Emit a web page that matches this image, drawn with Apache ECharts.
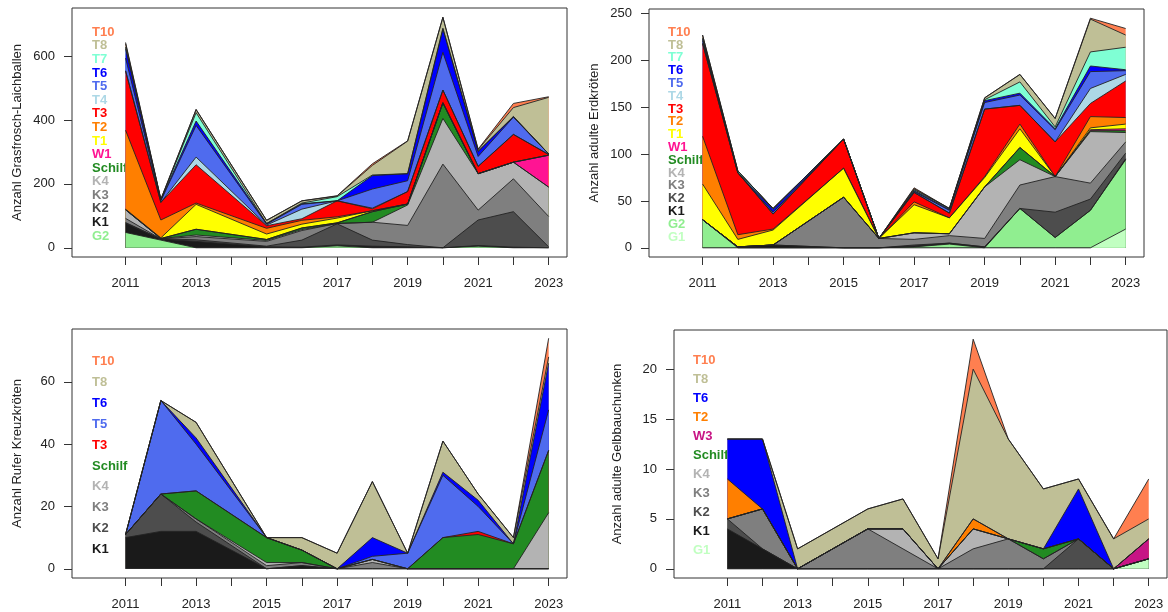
<!DOCTYPE html>
<html><head><meta charset="utf-8">
<script src="https://cdn.jsdelivr.net/npm/echarts@6/dist/echarts.min.js"></script>
<style>html,body{margin:0;padding:0;background:#fff}#c{width:1168px;height:612px}</style>
</head><body><div id="c"></div>
<script>
// ---------- shared axis data ----------
const years = [2011, 2012, 2013, 2015, 2016, 2017, 2018, 2019, 2020, 2021, 2022, 2023];
const tickYears = [2011, 2012, 2013, 2014, 2015, 2016, 2017, 2018, 2019, 2020, 2021, 2022, 2023];
const labelYears = [2011, 2013, 2015, 2017, 2019, 2021, 2023];

// ---------- Panel 1: Grasfrosch-Laichballen ----------
const p1_title = 'Anzahl Grasfrosch-Laichballen';
const p1_yTicks = [0, 200, 400, 600];
const p1_G2     = [48, 24, 0, 0, 0, 6, 0, 0, 0, 5, 0, 0];
const p1_K1     = [29, 3, 20, 3, 2, 3, 5, 3, 0, 2, 2, 0];
const p1_K2     = [2, 1, 5, 2, 22, 66, 19, 7, 0, 80, 111, 3];
const p1_K3     = [13, 0, 10, 15, 30, 1, 56, 60, 262, 31, 103, 95];
const p1_K4     = [27, 1, 5, 3, 3, 0, 0, 64, 143, 114, 52, 92];
const p1_Schilf = [0, 0, 18, 3, 5, 2, 33, 3, 49, 0, 0, 0];
const p1_W1     = [0, 0, 0, 0, 0, 0, 0, 0, 0, 0, 0, 100];
const p1_T1     = [2, 2, 78, 17, 12, 15, 3, 0, 0, 0, 0, 0];
const p1_T2     = [247, 56, 4, 18, 12, 4, 0, 0, 0, 0, 0, 0];
const p1_T3     = [186, 55, 120, 8, 5, 50, 6, 39, 40, 23, 87, 2];
const p1_T4     = [0, 0, 24, 2, 30, 0, 2, 0, 0, 0, 0, 0];
const p1_T5     = [40, 5, 99, 3, 15, 0, 60, 34, 118, 31, 54, 2];
const p1_T6     = [30, 3, 14, 2, 2, 0, 42, 22, 73, 16, 2, 0];
const p1_T7     = [5, 0, 26, 0, 2, 13, 2, 0, 3, 0, 0, 0];
const p1_T8     = [10, 2, 10, 10, 7, 2, 30, 102, 34, 5, 28, 177];
const p1_T10    = [4, 0, 0, 0, 0, 1, 5, 1, 0, 2, 13, 2];

// ---------- Panel 2: adulte Erdkröten ----------
const p2_title = 'Anzahl adulte Erdkröten';
const p2_yTicks = [0, 50, 100, 150, 200, 250];
const p2_G1     = [0, 0, 0, 0, 0, 0, 0, 0, 0, 0, 0, 20];
const p2_G2     = [30, 0, 0, 0, 0, 1, 4, 0, 42, 11, 40, 74];
const p2_K1     = [0, 1, 3, 0, 0, 1, 1, 1, 0, 0, 0, 1];
const p2_K2     = [0, 0, 0, 0, 0, 1, 0, 0, 0, 27, 12, 6];
const p2_K3     = [0, 0, 0, 54, 10, 6, 8, 9, 25, 38, 17, 12];
const p2_K4     = [0, 0, 0, 0, 0, 7, 2, 55, 27, 0, 55, 10];
const p2_Schilf = [0, 0, 0, 0, 0, 0, 0, 0, 13, 0, 1, 2];
const p2_W1     = [0, 0, 0, 0, 0, 0, 0, 0, 0, 0, 1, 2];
const p2_T1     = [38, 8, 16, 31, 0, 30, 17, 10, 20, 0, 2, 5];
const p2_T2     = [51, 5, 1, 0, 0, 3, 0, 1, 5, 0, 12, 7];
const p2_T3     = [99, 66, 16, 31, 0, 10, 5, 72, 20, 37, 14, 39];
const p2_T4     = [0, 0, 0, 0, 0, 0, 0, 0, 0, 0, 16, 7];
const p2_T5     = [3, 0, 2, 0, 0, 1, 3, 7, 11, 13, 18, 4];
const p2_T6     = [2, 0, 3, 0, 0, 1, 1, 2, 2, 1, 6, 1];
const p2_T7     = [1, 2, 1, 0, 0, 1, 1, 1, 12, 2, 15, 24];
const p2_T8     = [3, 0, 0, 0, 0, 1, 0, 2, 8, 9, 35, 13];
const p2_T10    = [0, 0, 0, 0, 0, 1, 0, 0, 0, 0, 1, 7];

// ---------- Panel 3: Rufer Kreuzkröten ----------
const p3_title = 'Anzahl Rufer Kreuzkröten';
const p3_yTicks = [0, 20, 40, 60];
const p3_K1     = [10, 12, 12, 0, 1, 0, 0, 0, 0, 0, 0, 0];
const p3_K2     = [1, 12, 3, 0, 0, 0, 0, 0, 0, 0, 0, 0];
const p3_K3     = [0, 0, 1, 1, 1, 0, 2, 0, 0, 0, 0, 0];
const p3_K4     = [0, 0, 0, 1, 0, 0, 1, 0, 0, 0, 0, 18];
const p3_Schilf = [0, 0, 9, 8, 4, 0, 0, 0, 10, 11, 8, 20];
const p3_T3     = [0, 0, 0, 0, 0, 0, 0, 0, 0, 1, 0, 0];
const p3_T5     = [0, 30, 15, 0, 0, 0, 1, 5, 20, 8, 0, 13];
const p3_T6     = [0, 0, 2, 0, 0, 0, 6, 0, 1, 2, 0, 15];
const p3_T8     = [0, 0, 5, 0, 4, 5, 18, 0, 10, 2, 2, 2];
const p3_T10    = [0, 0, 0, 0, 0, 0, 0, 0, 0, 0, 0, 6];

// ---------- Panel 4: adulte Gelbbauchunken ----------
const p4_title = 'Anzahl adulte Gelbbauchunken';
const p4_yTicks = [0, 5, 10, 15, 20];
const p4_G1     = [0, 0, 0, 0, 0, 0, 0, 0, 0, 0, 0, 1];
const p4_K1     = [4, 2, 0, 0, 0, 0, 0, 0, 0, 0, 0, 0];
const p4_K2     = [1, 0, 0, 0, 0, 0, 0, 0, 0, 3, 0, 0];
const p4_K3     = [0, 4, 0, 4, 2, 0, 2, 3, 1, 0, 0, 0];
const p4_K4     = [0, 0, 0, 0, 2, 0, 2, 0, 0, 0, 0, 0];
const p4_Schilf = [0, 0, 0, 0, 0, 0, 0, 0, 1, 0, 0, 0];
const p4_W3     = [0, 0, 0, 0, 0, 0, 0, 0, 0, 0, 0, 2];
const p4_T2     = [4, 0, 0, 0, 0, 0, 1, 0, 0, 0, 0, 0];
const p4_T6     = [4, 7, 0, 0, 0, 0, 0, 0, 0, 5, 0, 0];
const p4_T8     = [0, 0, 2, 2, 3, 1, 15, 10, 6, 1, 3, 2];
const p4_T10    = [0, 0, 0, 0, 0, 0, 3, 0, 0, 0, 0, 4];

// ---------- colours ----------
const colors = {
  T10: '#FF7F50', T8: '#BFBF96', T7: '#7FFFD4', T6: '#0000FF', T5: '#4F6BEE',
  T4: '#ADD8E6', T3: '#FF0000', T2: '#FF7F00', T1: '#FFFF00', W1: '#FF1493',
  W3: '#C71585', Schilf: '#228B22', K4: '#B3B3B3', K3: '#7F7F7F', K2: '#4D4D4D',
  K1: '#1A1A1A', G2: '#90EE90', G1: '#C1FFC1'
};

// stacking order bottom -> top
const panels = [
  { title: p1_title, yTicks: p1_yTicks,
    layers: [['G2',p1_G2],['K1',p1_K1],['K2',p1_K2],['K3',p1_K3],['K4',p1_K4],['Schilf',p1_Schilf],['W1',p1_W1],['T1',p1_T1],['T2',p1_T2],['T3',p1_T3],['T4',p1_T4],['T5',p1_T5],['T6',p1_T6],['T7',p1_T7],['T8',p1_T8],['T10',p1_T10]],
    grid: {left: 72, top: 8, width: 495, height: 249}, titleX: 17, legX: 92, legY: 32.3, legDy: 13.58 },
  { title: p2_title, yTicks: p2_yTicks,
    layers: [['G1',p2_G1],['G2',p2_G2],['K1',p2_K1],['K2',p2_K2],['K3',p2_K3],['K4',p2_K4],['Schilf',p2_Schilf],['W1',p2_W1],['T1',p2_T1],['T2',p2_T2],['T3',p2_T3],['T4',p2_T4],['T5',p2_T5],['T6',p2_T6],['T7',p2_T7],['T8',p2_T8],['T10',p2_T10]],
    grid: {left: 649, top: 9, width: 495, height: 248}, titleX: 594, legX: 668, legY: 32.3, legDy: 12.8 },
  { title: p3_title, yTicks: p3_yTicks,
    layers: [['K1',p3_K1],['K2',p3_K2],['K3',p3_K3],['K4',p3_K4],['Schilf',p3_Schilf],['T3',p3_T3],['T5',p3_T5],['T6',p3_T6],['T8',p3_T8],['T10',p3_T10]],
    grid: {left: 72, top: 329, width: 495, height: 249}, titleX: 17, legX: 92, legY: 361.7, legDy: 20.85 },
  { title: p4_title, yTicks: p4_yTicks,
    layers: [['G1',p4_G1],['K1',p4_K1],['K2',p4_K2],['K3',p4_K3],['K4',p4_K4],['Schilf',p4_Schilf],['W3',p4_W3],['T2',p4_T2],['T6',p4_T6],['T8',p4_T8],['T10',p4_T10]],
    grid: {left: 674, top: 330, width: 493, height: 248}, titleX: 617, legX: 693, legY: 360, legDy: 19.07 }
];

const FONT = 'Liberation Sans, Arial, Helvetica, sans-serif';
const grids = [], xAxes = [], yAxes = [], series = [], graphics = [];
const fmt = v => String(Math.round(v));

panels.forEach((p, i) => {
  grids.push(Object.assign({ show: true, borderColor: '#333', borderWidth: 1, backgroundColor: 'transparent' }, p.grid));
  // cumulative (stacked) tops, bottom -> top
  const cum = [];
  let run = years.map(() => 0);
  p.layers.forEach(([name, vals]) => {
    run = run.map((s, k) => s + vals[k]);
    cum.push([name, run.slice()]);
  });
  const M = Math.max.apply(null, run);
  xAxes.push({
    type: 'value', gridIndex: i, min: 2009.48, max: 2023.52,
    axisLine: { show: false, onZero: false }, splitLine: { show: false },
    axisTick: { show: true, length: 8, lineStyle: { color: '#333' }, customValues: tickYears },
    axisLabel: { customValues: labelYears, formatter: fmt, margin: 20, color: '#222', fontSize: 13, fontFamily: FONT }
  });
  yAxes.push({
    type: 'value', gridIndex: i, min: -0.04 * M, max: 1.04 * M,
    axisLine: { show: false, onZero: false }, splitLine: { show: false },
    axisTick: { show: true, length: 8, lineStyle: { color: '#333' }, customValues: p.yTicks },
    axisLabel: { customValues: p.yTicks, formatter: fmt, margin: 17, color: '#222', fontSize: 13, fontFamily: FONT }
  });
  // paint from the top layer down so lower layers overlay
  cum.slice().reverse().forEach(([name, tops]) => {
    series.push({
      type: 'line', name: name, xAxisIndex: i, yAxisIndex: i,
      data: years.map((y, k) => [y, tops[k]]),
      symbol: 'none', smooth: false, silent: true,
      lineStyle: { color: '#222', width: 0.9 },
      areaStyle: { color: colors[name], opacity: 1, origin: 0 }
    });
  });
  // legend (top -> bottom is reverse stacking order)
  const leg = p.layers.map(l => l[0]).reverse();
  leg.forEach((name, j) => {
    graphics.push({ type: 'text', x: p.legX, y: p.legY + j * p.legDy, silent: true,
      style: { text: name, fill: colors[name], font: 'bold 13px ' + FONT, align: 'left', verticalAlign: 'middle' } });
  });
  // y-axis title
  graphics.push({ type: 'text', x: p.titleX, y: p.grid.top + p.grid.height / 2, rotation: Math.PI / 2, silent: true,
    style: { text: p.title, fill: '#222', font: '13px ' + FONT, align: 'center', verticalAlign: 'middle' } });
});

const chart = echarts.init(document.getElementById('c'), null, { renderer: 'canvas' });
chart.setOption({
  animation: false, backgroundColor: '#fff',
  grid: grids, xAxis: xAxes, yAxis: yAxes, series: series, graphic: graphics
});
</script></body></html>
